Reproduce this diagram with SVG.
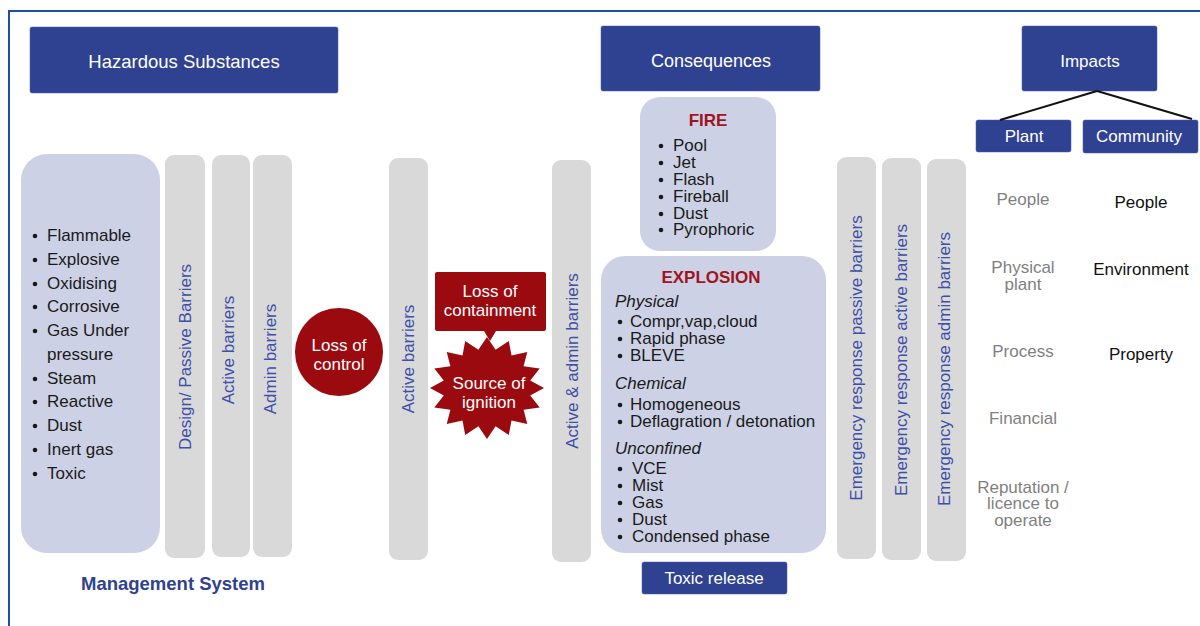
<svg xmlns="http://www.w3.org/2000/svg" width="1200" height="626" viewBox="0 0 1200 626">
<style>
text{font-family:"Liberation Sans",Arial,sans-serif}
.hdr{fill:#2f4191;stroke:#4a5aa8;stroke-width:0.5}
.ht{fill:#fff;font-size:17px;text-anchor:middle}
.lav{fill:#cdd1e5}
.bar{fill:#d9d9d9}
.vt{fill:#3d4fa8;font-size:17px;text-anchor:middle}
.red{fill:#9a0a0e}
.wt{fill:#fff;font-size:17px;text-anchor:middle}
.li{fill:#1a1a1a;font-size:17px}
.it{fill:#1a1a1a;font-size:17px;font-style:italic}
.ttl{fill:#a0141e;font-size:17px;font-weight:bold;text-anchor:middle}
.pl{fill:#7f7f7f;font-size:17px;text-anchor:middle}
.cm{fill:#111;font-size:17px;text-anchor:middle}
</style>
<rect width="1200" height="626" fill="#fff"/>
<path d="M1200 11 H9 V626" fill="none" stroke="#1f4fa0" stroke-width="2"/>

<g id="hazardous-substances"><rect class="hdr" x="30" y="27" width="308" height="66" rx="2"/><text class="ht" x="184" y="68" style="font-size:18.5px">Hazardous Substances</text></g>
<g id="consequences"><rect class="hdr" x="601" y="26" width="219" height="65" rx="2"/><text class="ht" x="711" y="67" style="font-size:18px">Consequences</text></g>
<g id="impacts"><rect class="hdr" x="1022" y="26" width="135" height="65" rx="2"/><text class="ht" x="1090" y="67">Impacts</text></g>
<g id="plant"><rect class="hdr" x="976" y="120" width="95" height="32" rx="2"/><text class="ht" x="1024" y="142">Plant</text></g>
<g id="community"><rect class="hdr" x="1083" y="120" width="115" height="33" rx="2"/><text class="ht" x="1139" y="142">Community</text></g>

<g id="connectors" stroke="#111" stroke-width="2" fill="none">
<line x1="1097" y1="91" x2="1000" y2="120"/>
<line x1="1097" y1="91" x2="1192" y2="119"/>
</g>

<g id="substances-list">
<rect class="lav" x="21" y="154" width="139" height="399" rx="26"/>
<g class="li">
<text x="47" y="241">Flammable</text>
<text x="47" y="265">Explosive</text>
<text x="47" y="289">Oxidising</text>
<text x="47" y="312">Corrosive</text>
<text x="47" y="336">Gas Under</text>
<text x="47" y="360">pressure</text>
<text x="47" y="384">Steam</text>
<text x="47" y="407">Reactive</text>
<text x="47" y="431">Dust</text>
<text x="47" y="455">Inert gas</text>
<text x="47" y="479">Toxic</text>
</g>
<g fill="#1a1a1a">
<circle cx="35" cy="236" r="2.3"/><circle cx="35" cy="260" r="2.3"/><circle cx="35" cy="284" r="2.3"/><circle cx="35" cy="307" r="2.3"/><circle cx="35" cy="331" r="2.3"/><circle cx="35" cy="379" r="2.3"/><circle cx="35" cy="402" r="2.3"/><circle cx="35" cy="426" r="2.3"/><circle cx="35" cy="450" r="2.3"/><circle cx="35" cy="474" r="2.3"/>
</g>
</g>

<g id="design-passive-barriers"><rect class="bar" x="165" y="155" width="40" height="403" rx="9"/><text class="vt" transform="translate(191 357) rotate(-90)">Design/ Passive Barriers</text></g>
<g id="active-barriers-1"><rect class="bar" x="212" y="155" width="38" height="402" rx="9"/><text class="vt" transform="translate(234 350) rotate(-90)">Active barriers</text></g>
<g id="admin-barriers"><rect class="bar" x="253" y="155" width="39" height="402" rx="9"/><text class="vt" transform="translate(276 359) rotate(-90)">Admin barriers</text></g>

<g id="loss-of-control"><circle class="red" cx="339" cy="352" r="44"/><text class="wt" x="339" y="351">Loss of</text><text class="wt" x="339" y="370">control</text></g>

<g id="active-barriers-2"><rect class="bar" x="389" y="158" width="39" height="402" rx="9"/><text class="vt" transform="translate(414 359) rotate(-90)">Active barriers</text></g>

<g id="loss-of-containment"><path class="red" d="M437 272 H544 Q546 272 546 274 V329 Q546 331 544 331 H496 L490 341 L484 331 H437 Q435 331 435 329 V274 Q435 272 437 272 Z"/><text class="wt" x="490" y="297">Loss of</text><text class="wt" x="490" y="316">containment</text></g>

<g id="source-of-ignition"><polygon class="red" points="544,388 530.2,395.6 539.7,407.5 523.6,409.7 527.3,424.1 511.5,420.4 508.8,435.1 495.6,426.3 487,439 478.4,426.3 465.2,435.1 462.5,420.4 446.7,424.1 450.4,409.7 434.3,407.5 443.8,395.6 430,388 443.8,380.4 434.3,368.5 450.4,366.3 446.7,351.9 462.5,355.6 465.2,340.9 478.4,349.7 487,337 495.6,349.7 508.8,340.9 511.5,355.6 527.3,351.9 523.6,366.3 539.7,368.5 530.2,380.4"/><text class="wt" x="489" y="389">Source of</text><text class="wt" x="489" y="408">ignition</text></g>

<g id="active-admin-barriers"><rect class="bar" x="552" y="160" width="39" height="402" rx="9"/><text class="vt" transform="translate(578 361) rotate(-90)">Active &amp; admin barriers</text></g>

<g id="fire">
<rect class="lav" x="640" y="97" width="136" height="154" rx="20"/>
<text class="ttl" x="708" y="126">FIRE</text>
<g class="li"><text x="673" y="151">Pool</text><text x="673" y="168">Jet</text><text x="673" y="185">Flash</text><text x="673" y="202">Fireball</text><text x="673" y="219">Dust</text><text x="673" y="235">Pyrophoric</text></g>
<g fill="#1a1a1a"><circle cx="661" cy="146" r="2.3"/><circle cx="661" cy="163" r="2.3"/><circle cx="661" cy="180" r="2.3"/><circle cx="661" cy="197" r="2.3"/><circle cx="661" cy="214" r="2.3"/><circle cx="661" cy="230" r="2.3"/></g>
</g>

<g id="explosion">
<rect class="lav" x="601" y="256" width="225" height="297" rx="24"/>
<text class="ttl" x="711" y="283">EXPLOSION</text>
<text class="it" x="615" y="307">Physical</text>
<g class="li"><text x="630" y="327">Compr,vap,cloud</text><text x="630" y="344">Rapid phase</text><text x="630" y="361">BLEVE</text></g>
<text class="it" x="615" y="389">Chemical</text>
<g class="li"><text x="630" y="410">Homogeneous</text><text x="630" y="427">Deflagration / detonation</text></g>
<text class="it" x="615" y="454">Unconfined</text>
<g class="li"><text x="632" y="474">VCE</text><text x="632" y="491">Mist</text><text x="632" y="508">Gas</text><text x="632" y="525">Dust</text><text x="632" y="542">Condensed phase</text></g>
<g fill="#1a1a1a"><circle cx="620" cy="322" r="2.3"/><circle cx="620" cy="339" r="2.3"/><circle cx="620" cy="356" r="2.3"/><circle cx="620" cy="405" r="2.3"/><circle cx="620" cy="422" r="2.3"/><circle cx="620" cy="469" r="2.3"/><circle cx="620" cy="486" r="2.3"/><circle cx="620" cy="503" r="2.3"/><circle cx="620" cy="520" r="2.3"/><circle cx="620" cy="537" r="2.3"/></g>
</g>

<g id="toxic-release"><rect class="hdr" x="642" y="562" width="145" height="32" rx="2"/><text class="ht" x="714" y="584">Toxic release</text></g>

<g id="er-passive-barriers"><rect class="bar" x="837" y="157" width="39" height="402" rx="9"/><text class="vt" transform="translate(862 358) rotate(-90)">Emergency response passive barriers</text></g>
<g id="er-active-barriers"><rect class="bar" x="882" y="158" width="39" height="402" rx="9"/><text class="vt" transform="translate(907 360) rotate(-90)">Emergency response active barriers</text></g>
<g id="er-admin-barriers"><rect class="bar" x="927" y="159" width="39" height="402" rx="9"/><text class="vt" transform="translate(950 369) rotate(-90)">Emergency response admin barriers</text></g>

<g id="plant-impacts">
<text class="pl" x="1023" y="205">People</text>
<text class="pl" x="1023" y="273">Physical</text><text class="pl" x="1023" y="290">plant</text>
<text class="pl" x="1023" y="357">Process</text>
<text class="pl" x="1023" y="424">Financial</text>
<text class="pl" x="1023" y="493">Reputation /</text><text class="pl" x="1023" y="509">licence to</text><text class="pl" x="1023" y="526">operate</text>
</g>
<g id="community-impacts">
<text class="cm" x="1141" y="208">People</text>
<text class="cm" x="1141" y="275">Environment</text>
<text class="cm" x="1141" y="360">Property</text>
</g>

<g id="management-system"><text x="173" y="590" style="fill:#2f4191;font-size:18.5px;font-weight:bold;text-anchor:middle">Management System</text></g>
</svg>
